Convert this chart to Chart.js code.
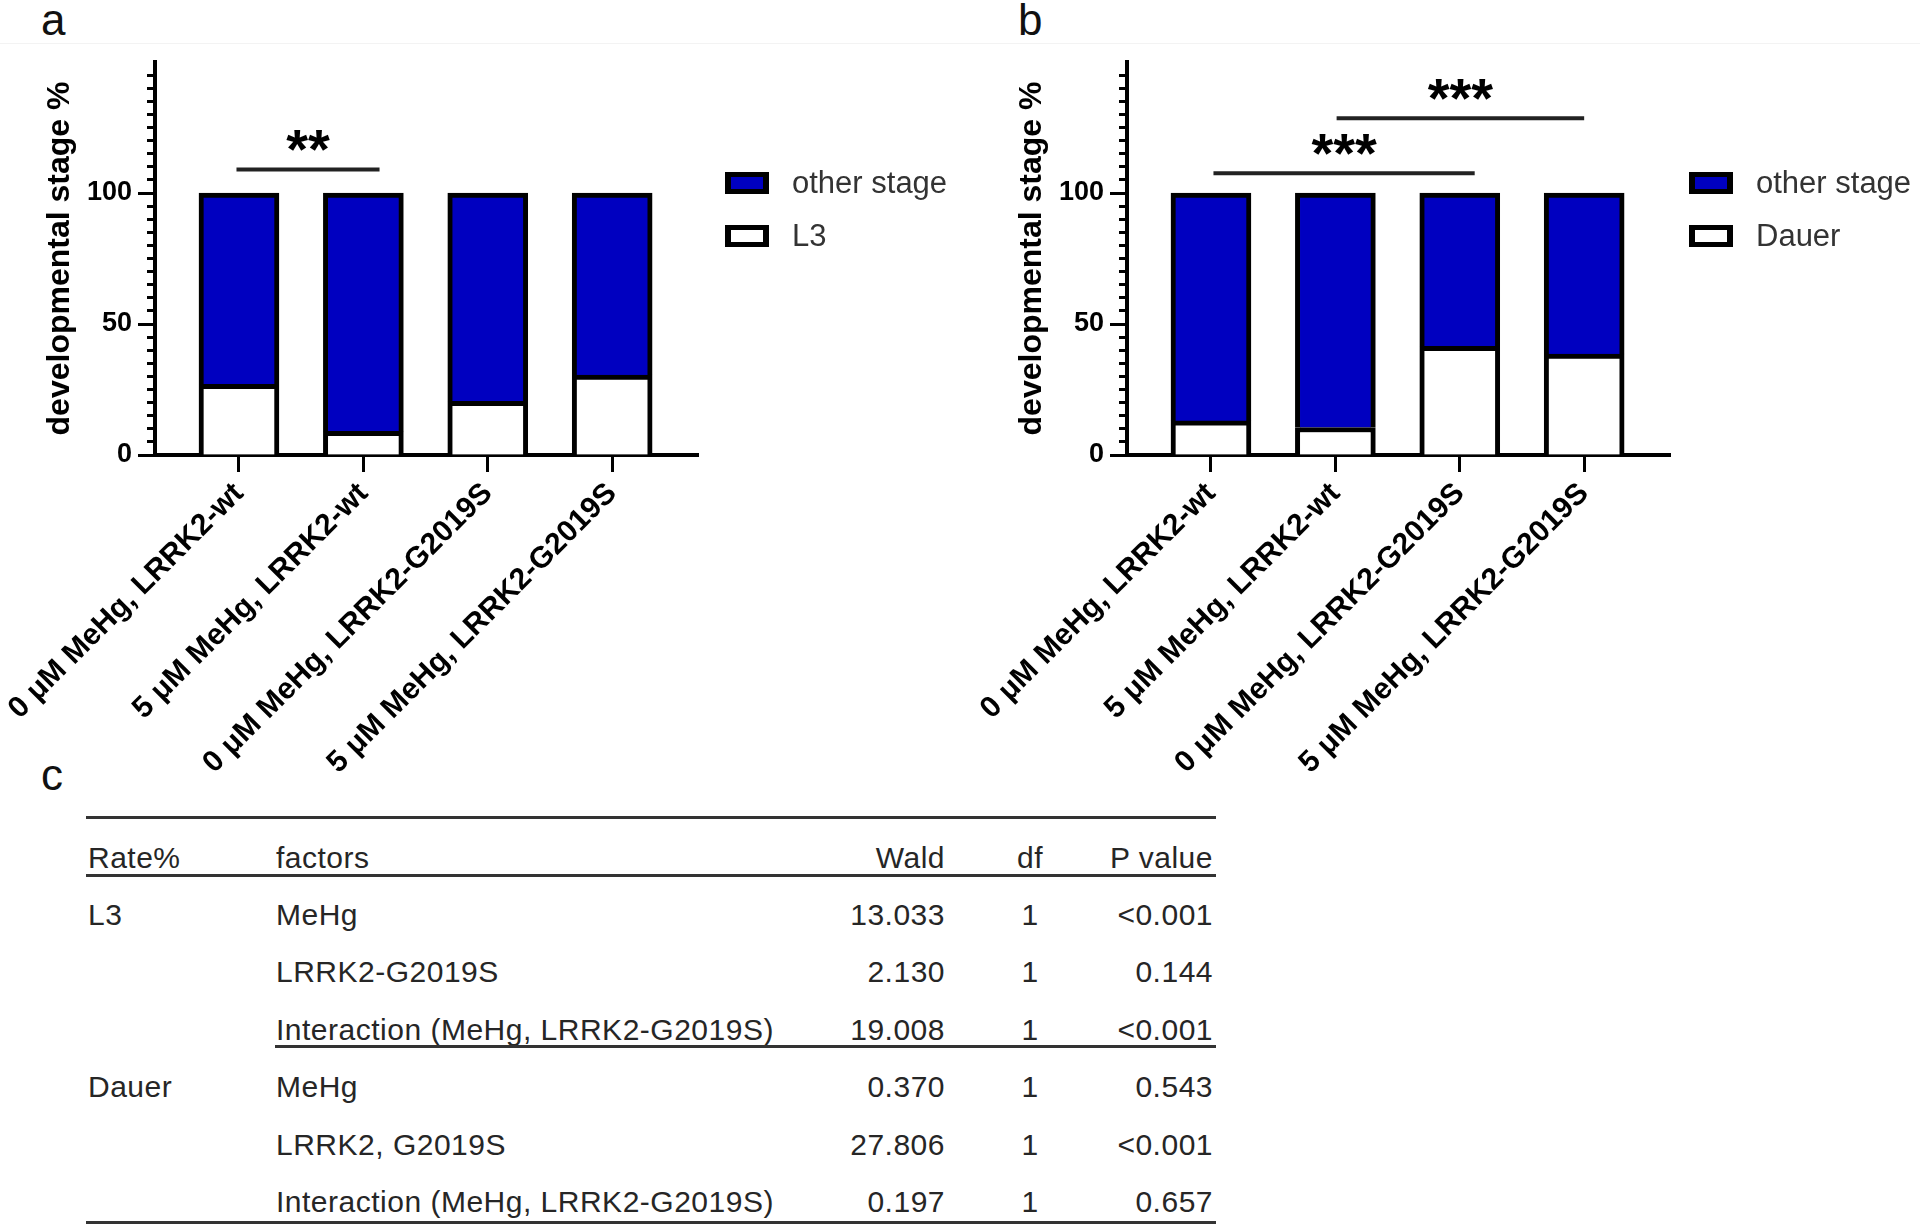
<!DOCTYPE html>
<html>
<head>
<meta charset="utf-8">
<script src="https://cdn.jsdelivr.net/npm/chart.js@4.4.1/dist/chart.umd.min.js"></script>
<style>
  body { margin: 0; background: #fff; width: 1920px; height: 1224px; position: relative; overflow: hidden;
         font-family: "Liberation Sans", Arial, sans-serif; }
  canvas { position: absolute; top: 0; }
  .panel-tag { position: absolute; font-size: 44px; line-height: 44px; color: #111; }
  .cell { position: absolute; font-size: 30px; line-height: 30px; letter-spacing: 0.5px; color: #262626; white-space: nowrap; }
  .rule { position: absolute; height: 3px; background: #333; }
</style>
</head>
<body>
<div style="position:absolute;left:0;top:43px;width:1920px;height:1px;background:#f3f3f3"></div>
<div class="panel-tag" style="left:41px;top:-2px">a</div>
<div class="panel-tag" style="left:1018px;top:-2px">b</div>
<div class="panel-tag" style="left:41px;top:753px">c</div>
<canvas id="graficoA" width="960" height="800" style="left:0"></canvas>
<canvas id="graficoB" width="960" height="800" style="left:960px"></canvas>
<div id="tabla"></div>

<script>
// --- data ---
const groups = ['0 μM MeHg, LRRK2-wt', '5 μM MeHg, LRRK2-wt', '0 μM MeHg, LRRK2-G2019S', '5 μM MeHg, LRRK2-G2019S'];
const l3Values = [27, 9, 20.5, 30.5];
const otherValuesA = [73, 91, 79.5, 69.5];
const dauerValues = [13, 10.5, 41.5, 38.5];
const otherValuesB = [87, 89.5, 58.5, 61.5];
const yLabelTicks = [0, 50, 100];
// significance bars: from/to in group units, level in %
const sigA = [{ from: -0.02, to: 1.13, level: 109, text: '**' }];
const sigB = [
    { from: 0.02, to: 2.12, level: 107.5, text: '***' },
    { from: 1.01, to: 3.0, level: 128.5, text: '***' }
];

// table c
const tableHead = ['Rate%', 'factors', 'Wald', 'df', 'P value'];
const tableRate = ['L3', '', '', 'Dauer', '', ''];
const tableFactors = ['MeHg', 'LRRK2-G2019S', 'Interaction (MeHg, LRRK2-G2019S)', 'MeHg', 'LRRK2, G2019S', 'Interaction (MeHg, LRRK2-G2019S)'];
const tableWald = ['13.033', '2.130', '19.008', '0.370', '27.806', '0.197'];
const tableDf = ['1', '1', '1', '1', '1', '1'];
const tableP = ['<0.001', '0.144', '<0.001', '0.543', '<0.001', '0.657'];

const FONT = '"Liberation Sans", Arial, sans-serif';
const BLUE = '#0000c0';
Chart.defaults.font.family = FONT;
Chart.defaults.color = '#000';

// legend drawn to the right of the plot, "other stage" on top
const stackLegend = {
    id: 'stackLegend',
    afterDraw(chart, args, opts) {
        const ctx = chart.ctx;
        const sets = chart.data.datasets.slice().reverse();
        ctx.save();
        ctx.font = '31px ' + FONT;
        ctx.textBaseline = 'alphabetic';
        sets.forEach((ds, i) => {
            const top = opts.y + i * opts.rowGap;
            ctx.fillStyle = '#000';
            ctx.fillRect(opts.x, top, 44, 22);
            ctx.fillStyle = ds.backgroundColor;
            ctx.fillRect(opts.x + 6, top + 5, 32, 12);
            ctx.fillStyle = '#333';
            ctx.fillText(ds.label, opts.x + 67, top + 21);
        });
        ctx.restore();
    }
};

// significance lines + stars, placed through the chart scales
const sigBars = {
    id: 'sigBars',
    afterDraw(chart, args, opts) {
        const ctx = chart.ctx;
        const xs = chart.scales.x, ys = chart.scales.y;
        ctx.save();
        (opts.items || []).forEach(it => {
            const x1 = xs.getPixelForValue(it.from);
            const x2 = xs.getPixelForValue(it.to);
            const y = ys.getPixelForValue(it.level);
            ctx.strokeStyle = '#222';
            ctx.lineWidth = 4;
            ctx.beginPath();
            ctx.moveTo(x1, y);
            ctx.lineTo(x2, y);
            ctx.stroke();
            ctx.font = 'bold 56px ' + FONT;
            ctx.fillStyle = '#000';
            ctx.textAlign = 'center';
            ctx.textBaseline = 'alphabetic';
            const m = ctx.measureText(it.text);
            const cy = y - 29;
            ctx.fillText(it.text, (x1 + x2) / 2, cy + (m.actualBoundingBoxAscent - m.actualBoundingBoxDescent) / 2);
        });
        ctx.restore();
    }
};

function crearPanel(id, lowVals, lowLabel, highVals, sig, padLeft, legendX) {
    const canvas = document.getElementById(id);
    const toPoints = vals => vals.map((v, i) => ({ x: i, y: v }));
    return new Chart(canvas.getContext('2d'), {
        type: 'bar',
        data: {
            datasets: [
                { label: lowLabel, data: toPoints(lowVals), backgroundColor: '#ffffff' },
                { label: 'other stage', data: toPoints(highVals), backgroundColor: BLUE }
            ]
        },
        options: {
            responsive: false,
            animation: false,
            devicePixelRatio: 1,
            layout: { padding: { left: padLeft, top: 62, right: 262 - padLeft, bottom: 0 } },
            datasets: {
                bar: { barThickness: 80, borderWidth: 5, borderColor: '#000' }
            },
            plugins: {
                legend: { display: false },
                tooltip: { enabled: false },
                stackLegend: { x: legendX, y: 172, rowGap: 53 },
                sigBars: { items: sig }
            },
            scales: {
                x: {
                    type: 'linear',
                    stacked: true,
                    offset: false,
                    min: -0.675,
                    max: 3.69,
                    afterBuildTicks: s => { s.ticks = groups.map((g, i) => ({ value: i })); },
                    afterFit: s => { s.height = 800 - 455; s.paddingLeft = 0; s.paddingRight = 0; },
                    grid: { offset: false, drawOnChartArea: false, tickLength: 17, tickWidth: 3, tickColor: '#000' },
                    border: { width: 4, color: '#000' },
                    ticks: {
                        autoSkip: false,
                        minRotation: 45,
                        maxRotation: 45,
                        padding: 4,
                        font: { size: 30, weight: 'bold' },
                        callback: v => groups[v]
                    }
                },
                y: {
                    stacked: true,
                    min: 0,
                    max: 150,
                    afterFit: s => { s.width = 155; s.paddingTop = 0; s.paddingBottom = 0; },
                    title: {
                        display: true,
                        text: 'developmental stage %',
                        font: { size: 32, weight: 'bold' },
                        padding: { top: 41, bottom: 0 }
                    },
                    grid: {
                        drawOnChartArea: false,
                        tickLength: 17,
                        tickWidth: 3,
                        tickColor: c => c.tick && c.tick.value === 150 ? 'rgba(0,0,0,0)' : '#000',
                        tickBorderDash: c => c.tick && yLabelTicks.includes(c.tick.value) ? [] : [8, 9],
                        tickBorderDashOffset: c => c.tick && yLabelTicks.includes(c.tick.value) ? 0 : 8
                    },
                    border: { width: 4, color: '#000' },
                    ticks: {
                        stepSize: 5,
                        autoSkip: false,
                        padding: 6,
                        font: { size: 27, weight: 'bold' },
                        callback: v => yLabelTicks.includes(v) ? String(v) : ''
                    }
                }
            }
        },
        plugins: [stackLegend, sigBars]
    });
}

crearPanel('graficoA', l3Values, 'L3', otherValuesA, sigA, 0, 725);
crearPanel('graficoB', dauerValues, 'Dauer', otherValuesB, sigB, 12, 729);

// --- table c ---
const tabla = document.getElementById('tabla');
const base = 868, rowStep = 57.4, ascent = 25.4;
function celda(text, y, x, align) {
    const d = document.createElement('div');
    d.className = 'cell';
    d.textContent = text;
    d.style.top = (y - ascent) + 'px';
    if (align === 'left') d.style.left = x + 'px';
    else if (align === 'right') d.style.right = (1920 - x) + 'px';
    else { d.style.left = (x - 60) + 'px'; d.style.width = '120px'; d.style.textAlign = 'center'; }
    tabla.appendChild(d);
}
function regla(x1, x2, y) {
    const d = document.createElement('div');
    d.className = 'rule';
    d.style.left = x1 + 'px';
    d.style.width = (x2 - x1) + 'px';
    d.style.top = (y - 1.5) + 'px';
    tabla.appendChild(d);
}
const colX = [88, 276, 945, 1030, 1213];
const colAlign = ['left', 'left', 'right', 'center', 'right'];
tableHead.forEach((h, c) => celda(h, base, colX[c], colAlign[c]));
tableFactors.forEach((f, r) => {
    const y = base + (r + 1) * rowStep;
    [tableRate[r], f, tableWald[r], tableDf[r], tableP[r]].forEach((t, c) => {
        if (t) celda(t, y, colX[c], colAlign[c]);
    });
});
regla(86, 1216, 817);
regla(86, 1216, 875);
regla(275, 1216, 1046);
regla(86, 1216, 1222);
</script>
</body>
</html>
